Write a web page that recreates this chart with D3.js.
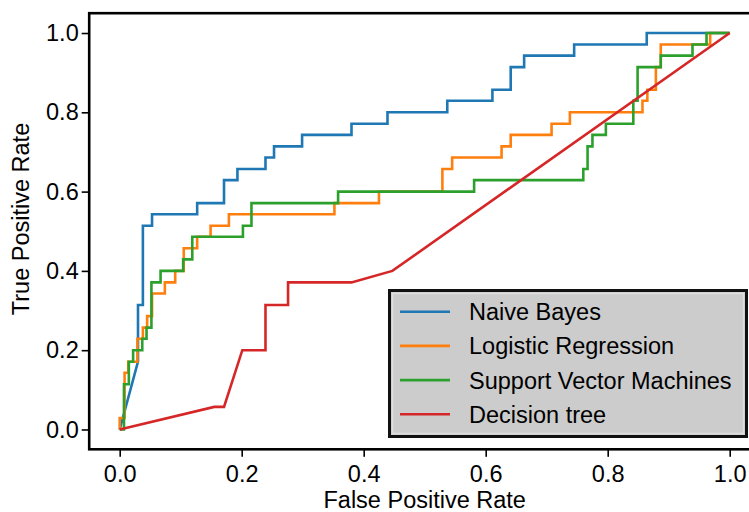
<!DOCTYPE html>
<meta charset="utf-8">
<style>
body { margin: 0; background: #fff; }
svg text { font-family: "Liberation Sans", Arial, sans-serif; fill: #000; }
.tick line { stroke: #000; stroke-width: 1.6px; }
.tick text { font-size: 23.5px; }
.curve { fill: none; stroke-width: 2.6px; stroke-linejoin: miter; }
</style>
<body>
<svg id="chart" width="749" height="512"></svg>
<script src="https://cdn.jsdelivr.net/npm/d3@7"></script>
<script>
// ROC curves (fpr / tpr pairs)
var nbFpr = [0, 0.030, 0.030, 0.038, 0.038, 0.053, 0.053, 0.127, 0.127, 0.171, 0.171, 0.193, 0.193, 0.239, 0.239, 0.253, 0.253, 0.299, 0.299, 0.380, 0.380, 0.439, 0.439, 0.537, 0.537, 0.611, 0.611, 0.641, 0.641, 0.663, 0.663, 0.745, 0.745, 0.864, 0.864, 1];
var nbTpr = [0, 0.171, 0.314, 0.314, 0.514, 0.514, 0.543, 0.543, 0.571, 0.571, 0.629, 0.629, 0.657, 0.657, 0.686, 0.686, 0.714, 0.714, 0.743, 0.743, 0.771, 0.771, 0.800, 0.800, 0.829, 0.829, 0.857, 0.857, 0.914, 0.914, 0.943, 0.943, 0.971, 0.971, 1, 1];

var lrFpr = [0, 0, 0.008, 0.008, 0.014, 0.014, 0.029, 0.029, 0.038, 0.038, 0.045, 0.045, 0.053, 0.053, 0.074, 0.074, 0.091, 0.091, 0.105, 0.105, 0.127, 0.127, 0.149, 0.149, 0.179, 0.179, 0.352, 0.352, 0.425, 0.425, 0.529, 0.529, 0.545, 0.545, 0.626, 0.626, 0.641, 0.641, 0.708, 0.708, 0.738, 0.738, 0.857, 0.857, 0.865, 0.865, 0.879, 0.879, 0.887, 0.887, 0.968, 0.968, 1];
var lrTpr = [0, 0.029, 0.029, 0.143, 0.143, 0.171, 0.171, 0.229, 0.229, 0.257, 0.257, 0.286, 0.286, 0.343, 0.343, 0.371, 0.371, 0.400, 0.400, 0.457, 0.457, 0.486, 0.486, 0.514, 0.514, 0.543, 0.543, 0.571, 0.571, 0.600, 0.600, 0.657, 0.657, 0.686, 0.686, 0.714, 0.714, 0.743, 0.743, 0.771, 0.771, 0.800, 0.800, 0.829, 0.829, 0.857, 0.857, 0.914, 0.914, 0.971, 0.971, 1, 1];

var svmFpr = [0, 0.007, 0.007, 0.015, 0.015, 0.022, 0.022, 0.037, 0.037, 0.044, 0.044, 0.052, 0.052, 0.067, 0.067, 0.104, 0.104, 0.119, 0.119, 0.202, 0.202, 0.216, 0.216, 0.358, 0.358, 0.581, 0.581, 0.760, 0.760, 0.767, 0.767, 0.775, 0.775, 0.797, 0.797, 0.842, 0.842, 0.849, 0.849, 0.887, 0.887, 0.939, 0.939, 0.962, 0.962, 1];
var svmTpr = [0, 0, 0.114, 0.114, 0.171, 0.171, 0.200, 0.200, 0.229, 0.229, 0.257, 0.257, 0.371, 0.371, 0.400, 0.400, 0.429, 0.429, 0.486, 0.486, 0.514, 0.514, 0.571, 0.571, 0.600, 0.600, 0.629, 0.629, 0.657, 0.657, 0.714, 0.714, 0.743, 0.743, 0.771, 0.771, 0.829, 0.829, 0.914, 0.914, 0.943, 0.943, 0.971, 0.971, 1, 1];

var dtFpr = [0, 0.155, 0.171, 0.201, 0.239, 0.239, 0.276, 0.276, 0.380, 0.447, 1];
var dtTpr = [0, 0.057, 0.057, 0.200, 0.200, 0.314, 0.314, 0.371, 0.371, 0.400, 1];

var labels = ["Naive Bayes", "Logistic Regression", "Support Vector Machines", "Decision tree"];
var colors = ["#1f77b4", "#ff7f0e", "#2ca02c", "#d62728"];
var ticks = [0, 0.2, 0.4, 0.6, 0.8, 1.0];

var series = [[nbFpr, nbTpr], [lrFpr, lrTpr], [svmFpr, svmTpr], [dtFpr, dtTpr]];

var svg = d3.select("#chart");
var x = d3.scaleLinear().domain([-0.05, 1.05]).range([89.2, 760.2]);
var y = d3.scaleLinear().domain([-0.05, 1.05]).range([449.3, 13.2]);

svg.append("g").attr("transform", "translate(0," + y(-0.05) + ")")
  .call(d3.axisBottom(x).tickValues(ticks).tickFormat(d3.format(".1f")).tickSize(7.5).tickPadding(8.5))
  .call(function(g) { g.select(".domain").remove(); });
svg.append("g").attr("transform", "translate(" + x(-0.05) + ",0)")
  .call(d3.axisLeft(y).tickValues(ticks).tickFormat(d3.format(".1f")).tickSize(7.5).tickPadding(3))
  .call(function(g) { g.select(".domain").remove(); });

var line = d3.line().x(function(d) { return x(d[0]); }).y(function(d) { return y(d[1]); });
series.forEach(function(s, i) {
  var pts = s[0].map(function(v, j) { return [v, s[1][j]]; });
  svg.append("path").attr("class", "curve").attr("d", line(pts)).attr("stroke", colors[i]);
});

// frame
svg.append("rect")
  .attr("x", x(-0.05)).attr("y", y(1.05))
  .attr("width", x(1.05) - x(-0.05)).attr("height", y(-0.05) - y(1.05))
  .attr("fill", "none").attr("stroke", "#000").attr("stroke-width", 2.6);

svg.append("text").attr("x", x(0.5)).attr("y", 508)
  .attr("text-anchor", "middle").style("font-size", "23.5px").text("False Positive Rate");
svg.append("text").attr("transform", "translate(29,219) rotate(-90)")
  .attr("text-anchor", "middle").style("font-size", "23.5px").text("True Positive Rate");

// legend
var lg = svg.append("g");
lg.append("rect").attr("x", 389.5).attr("y", 290.5).attr("width", 357).attr("height", 146)
  .attr("fill", "#cccccc").attr("stroke", "#111").attr("stroke-width", 3);
lg.append("rect").attr("x", 392.5).attr("y", 293.5).attr("width", 351).attr("height", 140)
  .attr("fill", "none").attr("stroke", "#e4e4e4").attr("stroke-width", 1.5).attr("opacity", 0.8);
labels.forEach(function(t, i) {
  var ly = 311.7 + i * 34.2;
  lg.append("line").attr("x1", 400).attr("x2", 450).attr("y1", ly).attr("y2", ly)
    .attr("stroke", colors[i]).attr("stroke-width", 2.6);
  lg.append("text").attr("x", 469).attr("y", ly + 8.5).style("font-size", "23.5px").text(t);
});
</script>
</body>
